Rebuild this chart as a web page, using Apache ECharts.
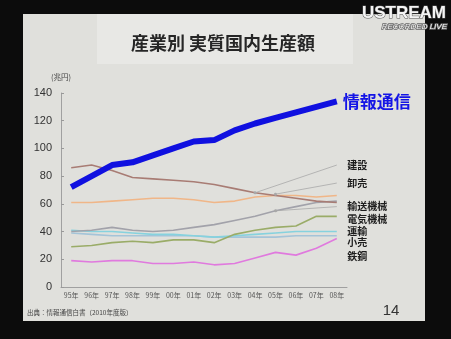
<!DOCTYPE html>
<html><head><meta charset="utf-8">
<script src="https://cdn.jsdelivr.net/npm/echarts@6/dist/echarts.min.js"></script>
<style>html,body{margin:0;padding:0;background:#0c0c0c;}#c{width:451px;height:339px;}</style>
</head><body><div id="c"></div>
<script>
const years = ['95年','96年','97年','98年','99年','00年','01年','02年','03年','04年','05年','06年','07年','08年'];
const joho       = [72, 80, 88, 90, 95, 100, 105, 106, 113, 118, 122, 126, 130, 134];
const kensetsu   = [86, 88, 84, 79, 78, 77, 76, 74, 71, 68, 66, 64, 62, 61];
const oroshi     = [61, 61, 62, 63, 64, 64, 63, 61, 62, 65, 66, 66, 65, 66];
const yusoKikai  = [40, 41, 43, 41, 40, 41, 43, 45, 48, 51, 55, 58, 61, 62];
const denkiKikai = [29, 30, 32, 33, 32, 34, 34, 32, 38, 41, 43, 44, 51, 51];
const unyu       = [41, 40, 40, 39, 38, 38, 37, 36, 37, 38, 39, 40, 40, 40];
const kouri      = [39, 38, 37, 37, 37, 37, 37, 36, 36, 36, 36, 37, 37, 37];
const tekko      = [19, 18, 19, 19, 17, 17, 18, 16, 17, 21, 25, 23, 28, 35];
// label anchor values (at last category) and pointer origins
const labelValues = {'建設': 88, '卸売': 75, '輸送機械': 58, '電気機械': 49, '運輸': 40, '小売': 32, '鉄鋼': 22};
const pointerFrom = {'建設': ['04年', 68], '卸売': ['05年', 67], '輸送機械': ['05年', 55]};

const FONT = "'Noto Sans CJK JP', 'Noto Sans', sans-serif";
const chart = echarts.init(document.getElementById('c'));

function thin(name, data, color) {
  const s = {
    name, type: 'line', data, symbol: 'none', smooth: false,
    lineStyle: {color, width: 1.6}, itemStyle: {color}, z: 3,
    markPoint: {
      symbol: 'circle', symbolSize: 1, itemStyle: {color: 'rgba(0,0,0,0)'},
      label: {show: true, position: 'right', distance: 10, formatter: name,
              color: '#1e1e1e', fontSize: 10, fontWeight: 'bold', fontFamily: FONT},
      data: [{coord: [years[years.length - 1], labelValues[name]]}]
    }
  };
  if (pointerFrom[name]) {
    s.markLine = {
      silent: true, symbol: ['circle', 'none'], symbolSize: 3,
      lineStyle: {color: '#a8a8a8', width: 0.8, type: 'solid'},
      label: {show: false},
      data: [[{coord: pointerFrom[name]}, {coord: [years[years.length - 1], labelValues[name]]}]]
    };
  }
  return s;
}

chart.setOption({
  animation: false,
  backgroundColor: '#0c0c0c',
  textStyle: {fontFamily: FONT},
  graphic: [
    {type: 'rect', z: -10, shape: {x: 23, y: 14, width: 402, height: 307}, style: {fill: '#e0e0dc'}},
    {type: 'rect', z: -9, shape: {x: 97, y: 14, width: 256, height: 50}, style: {fill: '#e8e8e5'}},
    {type: 'text', z: 10, x: 223, y: 43, style: {text: '産業別 実質国内生産額', fill: '#262626', fontSize: 18, fontWeight: 'bold', fontFamily: FONT, align: 'center', verticalAlign: 'middle'}},
    {type: 'text', z: 10, x: 446, y: 13, style: {text: 'USTREAM', fill: '#f4f4f4', stroke: '#555', lineWidth: 1, fontSize: 17, fontWeight: 'bold', fontFamily: "'Liberation Sans Narrow','Liberation Sans',sans-serif", align: 'right', verticalAlign: 'middle'}},
    {type: 'text', z: 10, x: 447, y: 27, style: {text: 'RECORDED LIVE', fill: '#f4f4f4', stroke: '#666', lineWidth: 1.5, fontSize: 8, fontStyle: 'italic', fontFamily: "'Liberation Sans Narrow','Liberation Sans',sans-serif", align: 'right', verticalAlign: 'middle'}},
    {type: 'text', z: 10, x: 27, y: 313, style: {text: '出典：情報通信白書（2010年度版）', fill: '#444', fontSize: 6.5, fontFamily: FONT, verticalAlign: 'middle'}},
    {type: 'text', z: 10, x: 391, y: 311, style: {text: '14', fill: '#333', fontSize: 15, fontFamily: "'Liberation Sans',sans-serif", align: 'center', verticalAlign: 'middle'}}
  ],
  grid: {left: 61, top: 93, width: 286, height: 194},
  xAxis: {
    type: 'category', data: years, boundaryGap: true,
    axisLine: {lineStyle: {color: '#a0a0a0'}},
    axisTick: {show: false},
    axisLabel: {interval: 0, fontSize: 7, color: '#555', margin: 5, fontFamily: FONT}
  },
  yAxis: {
    type: 'value', min: 0, max: 140, interval: 20,
    name: '(兆円)', nameLocation: 'end', nameGap: 12,
    nameTextStyle: {fontSize: 7.5, color: '#444', fontFamily: FONT},
    axisLine: {show: true, lineStyle: {color: '#a0a0a0'}},
    axisTick: {show: true, inside: true, length: 3, lineStyle: {color: '#999'}},
    splitLine: {show: false},
    axisLabel: {fontSize: 11, color: '#333', margin: 9, fontFamily: "'Liberation Sans', sans-serif"}
  },
  series: [
    thin('鉄鋼', tekko, '#e07ade'),
    thin('小売', kouri, '#a4c4d8'),
    thin('運輸', unyu, '#86d2de'),
    thin('電気機械', denkiKikai, '#9aac68'),
    thin('輸送機械', yusoKikai, '#a2a2aa'),
    thin('卸売', oroshi, '#f0b688'),
    thin('建設', kensetsu, '#a87c74'),
    {
      name: '情報通信', type: 'line', data: joho, symbol: 'none', z: 5,
      lineStyle: {color: '#1010e0', width: 6}, itemStyle: {color: '#1010e0'},
      endLabel: {show: true, formatter: '情報通信', color: '#1414e6', fontSize: 17, fontWeight: 'bold', distance: 6, fontFamily: FONT}
    }
  ]
});
</script></body></html>
